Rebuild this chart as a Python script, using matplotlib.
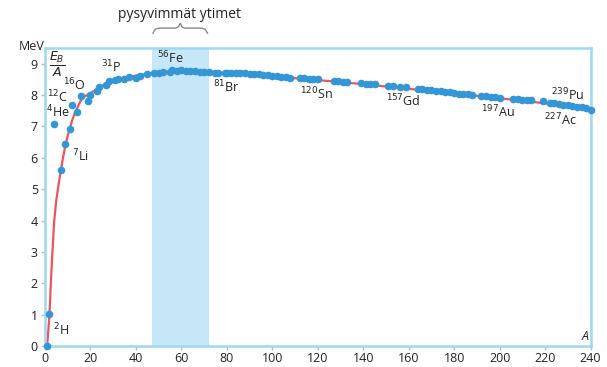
import matplotlib.pyplot as plt
from matplotlib.transforms import blended_transform_factory

# mittauspisteet: nukleoniluku A ja sidosenergia nukleonia kohti (MeV)
mass_A = [1, 2, 4, 7, 9, 11, 12, 14, 16, 19, 20, 23, 24, 27, 28, 31, 32, 35, 37, 40,
          42, 45, 48, 50, 52, 55, 56, 58, 60, 62, 64, 66, 68, 70, 72, 75, 76, 79, 80, 82,
          84, 86, 88, 90, 92, 94, 96, 98, 100, 102, 104, 106, 108, 112, 114, 116, 118, 120,
          127, 129, 131, 133, 139, 141, 143, 145, 151, 153, 156, 159, 164, 166, 168, 170,
          172, 174, 176, 178, 180, 182, 184, 186, 188, 192, 194, 196, 198, 200, 206, 208,
          210, 212, 214, 219, 222, 224, 226, 228, 230, 232, 234, 236, 238, 240]
energy = [0.0, 1.02, 7.07, 5.6, 6.45, 6.93, 7.68, 7.47, 7.98, 7.82, 8.0, 8.12, 8.26, 8.33, 8.45, 8.48, 8.5, 8.52, 8.57, 8.55,
          8.62, 8.66, 8.69, 8.72, 8.73, 8.74, 8.79, 8.76, 8.8, 8.78, 8.76, 8.77, 8.75, 8.74, 8.73, 8.72, 8.71, 8.7, 8.72, 8.71,
          8.71, 8.69, 8.7, 8.68, 8.67, 8.66, 8.64, 8.63, 8.62, 8.6, 8.59, 8.57, 8.55, 8.56, 8.55, 8.52, 8.52, 8.5,
          8.46, 8.44, 8.43, 8.42, 8.38, 8.37, 8.35, 8.35, 8.3, 8.28, 8.27, 8.25, 8.2, 8.19, 8.17, 8.15,
          8.14, 8.12, 8.1, 8.09, 8.07, 8.05, 8.04, 8.03, 8.01, 7.97, 7.96, 7.94, 7.93, 7.92, 7.88, 7.87,
          7.86, 7.84, 7.83, 7.8, 7.76, 7.74, 7.72, 7.7, 7.68, 7.66, 7.63, 7.61, 7.58, 7.54]

# sovitettu käyrä
curve_A = [1, 1.5, 2, 2.6, 3.3, 4.1, 5.0, 5.8, 7, 8, 9, 10, 11, 12, 13, 14, 15, 16, 17, 18, 20,
           24, 28, 32, 36, 42, 50, 58, 66, 76, 90, 100, 120, 140, 160, 180, 200, 220, 240]
curve_E = [0.0, 0.5, 1.0, 2.0, 3.0, 4.0, 4.65, 5.05, 5.6, 6.02, 6.4, 6.7, 6.95, 7.2, 7.4, 7.55, 7.72, 7.85, 7.93, 7.98, 8.06,
           8.25, 8.4, 8.5, 8.57, 8.65, 8.72, 8.76, 8.76, 8.72, 8.65, 8.6, 8.48, 8.35, 8.2, 8.06, 7.9, 7.74, 7.55]

# nuklidien nimet ja niiden paikat
labels = [r'$^{2}$H', r'$^{7}$Li', r'$^{4}$He', r'$^{12}$C', r'$^{16}$O', r'$^{31}$P', r'$^{56}$Fe',
          r'$^{81}$Br', r'$^{120}$Sn', r'$^{157}$Gd', r'$^{197}$Au', r'$^{239}$Pu', r'$^{227}$Ac']
label_x = [3.5, 12.0, 0.3, 1.0, 8.0, 24.5, 49.5, 74.0, 112.0, 150.0, 192.0, 222.5, 219.5]
label_y = [0.5, 6.05, 7.45, 7.93, 8.32, 8.9, 9.18, 8.25, 8.03, 7.8, 7.45, 8.0, 7.2]

x_ticks = list(range(0, 241, 20))
y_ticks = list(range(0, 10))
stable_range = (47, 72)

plt.rcParams['font.family'] = ['Open Sans', 'DejaVu Sans']
spine_col = '#9fd6f2'

fig = plt.figure(figsize=(6.07, 3.67), dpi=100)
ax = fig.add_axes([0.074, 0.057, 0.899, 0.812])

ax.axvspan(stable_range[0], stable_range[1], color='#c6e7f8', lw=0, zorder=0)
ax.plot(curve_A, curve_E, color='#e8575e', lw=1.6, zorder=2)
ax.scatter(mass_A, energy, s=20, color='#3596d6', zorder=3, clip_on=False)

for txt, lx, ly in zip(labels, label_x, label_y):
    ax.text(lx, ly, txt, fontsize=9, ha='left', va='center', color='#222222')

ax.set_xlim(0, 240)
ax.set_ylim(0, 9.5)
ax.set_xticks(x_ticks)
ax.set_yticks(y_ticks)
ax.tick_params(colors='#bbbbbb', labelcolor='#222222', labelsize=9, length=3, width=1)
ax.tick_params(axis='x', pad=1)
ax.tick_params(axis='y', pad=2)
for s in ax.spines.values():
    s.set_color(spine_col)
    s.set_linewidth(1.8)

# akselien nimet
ax.text(-0.3, 9.55, 'MeV', fontsize=9, ha='right', va='center', color='#222222')
ax.text(1.8, 9.0, r'$\frac{E_B}{A}$', fontsize=13, ha='left', va='center', color='#222222')
ax.text(239, 0.1, 'A', fontsize=9, style='italic', ha='right', va='bottom', color='#222222')

# aaltosulku ja teksti
tr = blended_transform_factory(ax.transData, ax.transAxes)
a0, a1 = stable_range
mid = (a0 + a1) / 2
bx = [a0 + 0.5, a0 + 1.5, a0 + 3, mid - 2, mid - 0.8, mid, mid + 0.8, mid + 2, a1 - 3, a1 - 1.5, a1 - 0.5]
by = [1.05, 1.063, 1.067, 1.067, 1.071, 1.083, 1.071, 1.067, 1.067, 1.063, 1.05]
ax.plot(bx, by, color='#888888', lw=1.0, transform=tr, clip_on=False)
ax.text(mid - 0.5, 1.112, 'pysyvimmät ytimet', fontsize=10, ha='center', va='center',
        color='#222222', transform=tr)

plt.savefig('out.png', dpi=100)
